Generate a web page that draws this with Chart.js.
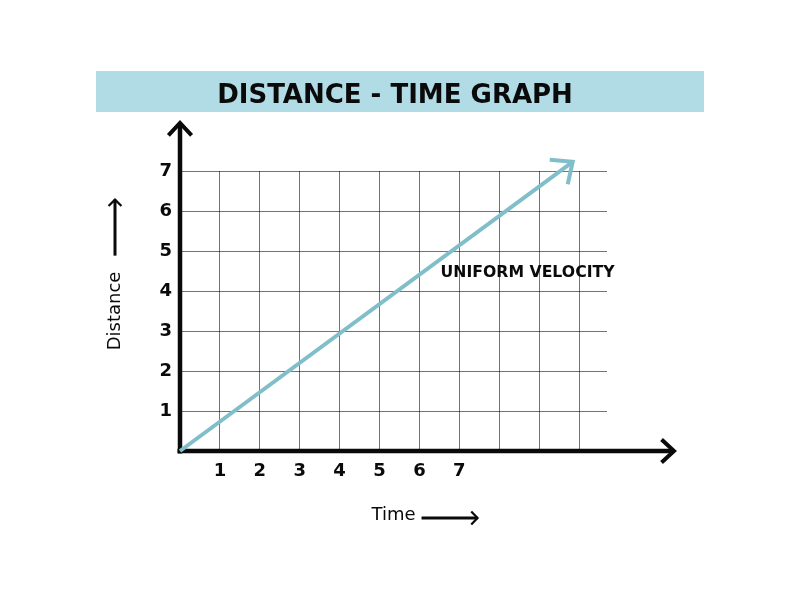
<!DOCTYPE html>
<html>
<head>
<meta charset="utf-8">
<title>Distance - Time Graph</title>
<script src="https://cdn.jsdelivr.net/npm/chart.js@4.4.0/dist/chart.umd.min.js"></script>
<style>
    html, body { margin: 0; padding: 0; background: #fff; }
    #wrap { width: 800px; height: 600px; }
</style>
</head>
<body>
<div id="wrap"><canvas id="graph" width="800" height="600"></canvas></div>
<script>
// Distance - Time graph

// Chart data
const titleText = 'DISTANCE - TIME GRAPH';
const lineLabel = 'UNIFORM VELOCITY';
const xAxisLabel = 'Time';
const yAxisLabel = 'Distance';
const timeValues = [0, 9.84];
const distanceValues = [0, 7.23];
const xGridValues = [1, 2, 3, 4, 5, 6, 7, 8, 9, 10];
const xTickLabels = ['1', '2', '3', '4', '5', '6', '7'];
const yGridValues = [1, 2, 3, 4, 5, 6, 7];
const yTickLabels = ['1', '2', '3', '4', '5', '6', '7'];

const LINE_COLOR = '#80bfc9';
const BAND_COLOR = '#b1dbe5';
const INK = '#0a0a0a';

// Helper: open chevron arrow head at (x, y) pointing along angle
function drawChevron(ctx, x, y, angle, len, spread) {
    ctx.beginPath();
    ctx.moveTo(x + len * Math.cos(angle + Math.PI - spread), y + len * Math.sin(angle + Math.PI - spread));
    ctx.lineTo(x, y);
    ctx.lineTo(x + len * Math.cos(angle + Math.PI + spread), y + len * Math.sin(angle + Math.PI + spread));
    ctx.stroke();
}

const sketchPlugin = {
    id: 'sketch',
    beforeDraw(chart) {
        const ctx = chart.ctx;
        ctx.save();
        // Title band
        ctx.fillStyle = BAND_COLOR;
        ctx.fillRect(96, 71, 608, 41);
        ctx.fillStyle = INK;
        ctx.font = 'bold 26px "DejaVu Sans"';
        ctx.textAlign = 'center';
        ctx.textBaseline = 'alphabetic';
        ctx.fillText(titleText, 395, 103);
        ctx.restore();
    },
    beforeDatasetsDraw(chart) {
        const ctx = chart.ctx;
        const x = chart.scales.x;
        const y = chart.scales.y;
        const ox = x.getPixelForValue(0);
        const oy = y.getPixelForValue(0);
        ctx.save();
        ctx.strokeStyle = INK;
        ctx.lineWidth = 4.5;
        ctx.lineCap = 'butt';
        ctx.lineJoin = 'miter';
        // y axis
        ctx.beginPath();
        ctx.moveTo(ox, oy + 2.5);
        ctx.lineTo(ox, 123);
        ctx.stroke();
        // x axis
        ctx.beginPath();
        ctx.moveTo(ox - 2.5, oy);
        ctx.lineTo(674, oy);
        ctx.stroke();
        ctx.lineWidth = 4;
        drawChevron(ctx, ox, 123, -Math.PI / 2, 17, 0.75);
        drawChevron(ctx, 674, oy, 0, 17, 0.75);
        ctx.restore();
    },
    afterDraw(chart) {
        const ctx = chart.ctx;
        const x = chart.scales.x;
        const y = chart.scales.y;
        ctx.save();

        // Arrow head on the data line
        const pts = chart.getDatasetMeta(0).data;
        const a = pts[pts.length - 2];
        const b = pts[pts.length - 1];
        const ang = Math.atan2(b.y - a.y, b.x - a.x);
        ctx.strokeStyle = LINE_COLOR;
        ctx.lineWidth = 4;
        ctx.lineCap = 'butt';
        drawChevron(ctx, b.x, b.y, ang, 23, 0.72);

        // Line label
        ctx.fillStyle = INK;
        ctx.font = 'bold 15.7px "DejaVu Sans"';
        ctx.textAlign = 'left';
        ctx.textBaseline = 'middle';
        ctx.fillText(lineLabel, x.getPixelForValue(6.53), y.getPixelForValue(4.46));

        // Small arrows after the axis titles
        ctx.font = '18px "DejaVu Sans"';
        ctx.strokeStyle = INK;
        ctx.lineWidth = 3;
        const tw = ctx.measureText(xAxisLabel).width;
        const tx = (x.left + x.right) / 2 + tw / 2 + 6;
        const ty = 518;
        ctx.beginPath();
        ctx.moveTo(tx, ty);
        ctx.lineTo(tx + 56, ty);
        ctx.stroke();
        ctx.lineWidth = 2.2;
        drawChevron(ctx, tx + 56, ty, 0, 9, 0.8);

        const dw = ctx.measureText(yAxisLabel).width;
        const dy = (y.top + y.bottom) / 2 - dw / 2 - 16;
        const dx = 115;
        ctx.lineWidth = 3;
        ctx.beginPath();
        ctx.moveTo(dx, dy);
        ctx.lineTo(dx, dy - 56);
        ctx.stroke();
        ctx.lineWidth = 2.2;
        drawChevron(ctx, dx, dy - 56, -Math.PI / 2, 9, 0.8);
        ctx.restore();
    }
};

const points = timeValues.map((t, i) => ({ x: t, y: distanceValues[i] }));
const tickFont = { family: '"DejaVu Sans"', size: 18, weight: 'bold' };
const titleFont = { family: '"DejaVu Sans"', size: 18, weight: 'normal' };

document.addEventListener('DOMContentLoaded', function() {
    const ctx = document.getElementById('graph').getContext('2d');
    new Chart(ctx, {
        type: 'line',
        data: {
            datasets: [{
                label: lineLabel,
                data: points,
                borderColor: LINE_COLOR,
                borderWidth: 4,
                pointRadius: 0,
                tension: 0,
                clip: false
            }]
        },
        options: {
            responsive: false,
            animation: false,
            layout: { padding: { left: 0, top: 171, right: 193, bottom: 0 } },
            plugins: {
                legend: { display: false },
                tooltip: { enabled: false },
                title: { display: false }
            },
            scales: {
                x: {
                    type: 'linear',
                    min: 0,
                    max: 10.7,
                    afterBuildTicks: function(scale) {
                        scale.ticks = xGridValues.map(v => ({ value: v }));
                    },
                    afterFit: function(scale) { scale.height = 149; },
                    grid: { color: 'rgba(0,0,0,0.55)', lineWidth: 1, drawTicks: false },
                    border: { display: false },
                    ticks: {
                        autoSkip: false,
                        maxRotation: 0,
                        padding: 10,
                        color: INK,
                        font: tickFont,
                        callback: function(value) {
                            const i = xGridValues.indexOf(value);
                            return xTickLabels[i] || '';
                        }
                    },
                    title: {
                        display: true,
                        text: xAxisLabel,
                        color: INK,
                        font: titleFont,
                        padding: { top: 0, bottom: 74 }
                    }
                },
                y: {
                    type: 'linear',
                    min: 0,
                    max: 7,
                    afterBuildTicks: function(scale) {
                        scale.ticks = yGridValues.map(v => ({ value: v }));
                    },
                    afterFit: function(scale) { scale.width = 180; },
                    grid: { color: 'rgba(0,0,0,0.55)', lineWidth: 1, drawTicks: false },
                    border: { display: false },
                    ticks: {
                        padding: 8,
                        color: INK,
                        font: tickFont,
                        callback: function(value) {
                            const i = yGridValues.indexOf(value);
                            return yTickLabels[i] || '';
                        }
                    },
                    title: {
                        display: true,
                        text: yAxisLabel,
                        color: INK,
                        font: titleFont,
                        padding: { top: 104.5, bottom: 0 }
                    }
                }
            }
        },
        plugins: [sketchPlugin]
    });
});
</script>
</body>
</html>
